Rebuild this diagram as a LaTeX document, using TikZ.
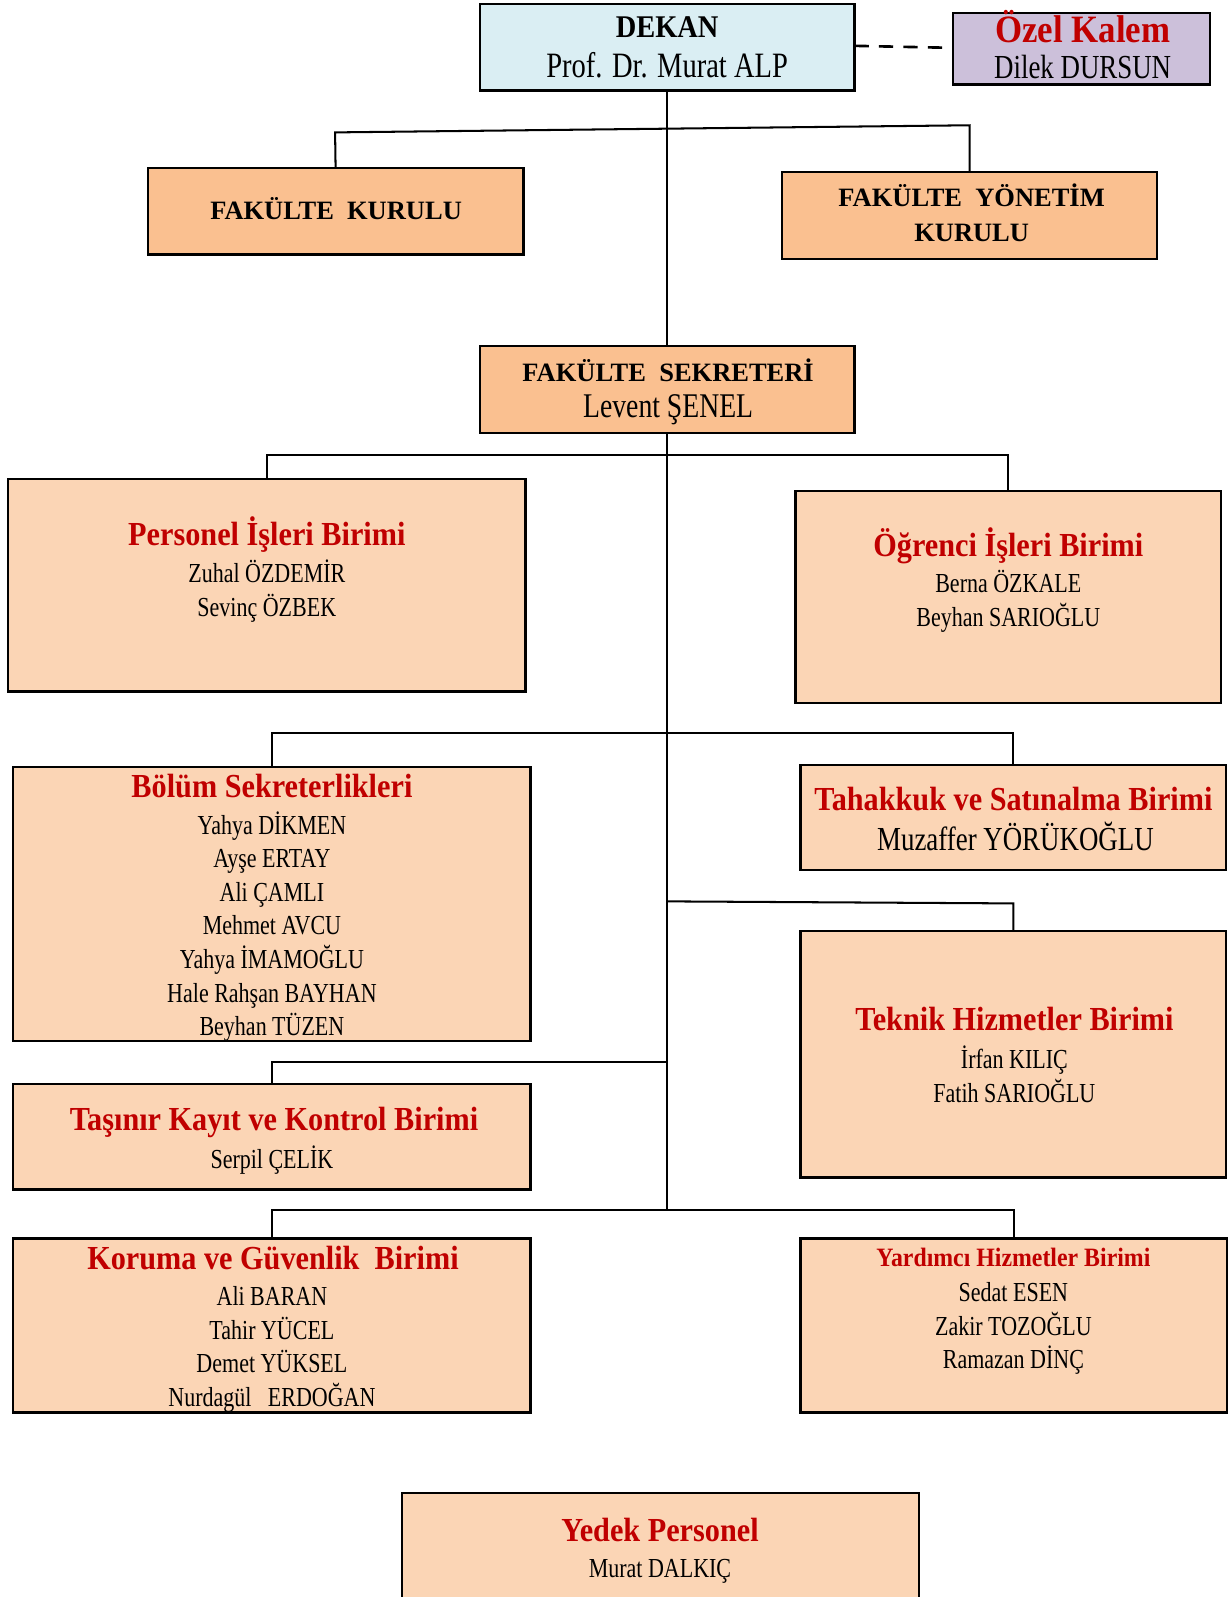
\documentclass[tikz,border=0pt]{standalone}
\usepackage{fontspec}
\setmainfont{Liberation Serif}
\newfontfamily\hfont{Liberation Serif}[FakeStretch=0.9]
\newfontfamily\nfont{Liberation Serif}[FakeStretch=0.8]
\definecolor{titlered}{HTML}{C00000}
\definecolor{dekanblue}{HTML}{DAEEF3}
\definecolor{ozellila}{HTML}{CCC0DA}
\definecolor{darkpeach}{HTML}{FAC090}
\definecolor{peach}{HTML}{FBD5B5}
\tikzset{
  ubox/.style={draw=black, line width=2.3pt, inner sep=0pt, outer sep=0pt},
  conn/.style={line width=2pt, draw=black},
  ttl/.style={anchor=base, inner sep=0pt, text=titlered, font=\hfont\bfseries\fontsize{33}{33}\selectfont},
  nm/.style={anchor=base, inner sep=0pt, font=\nfont\fontsize{27}{27}\selectfont},
  hd/.style={anchor=base, inner sep=0pt, font=\bfseries\fontsize{26}{26}\selectfont},
}
\newcommand\mkbox[6]{\node[ubox, fill=#6, minimum width={(#4-#2)*1pt}, minimum height={(#5-#3)*1pt}] (#1) at ({(#2+#4)/2},{(#3+#5)/2}) {};}
\begin{document}
\begin{tikzpicture}[x=1pt,y=-1pt]
\useasboundingbox[fill=white] (0,0) rectangle (1209,1568);
% connectors
\draw[line width=2.6pt, dash pattern=on 14pt off 10pt] (839,45) -- (936,47);
\coordinate (b1) at (329,130);
\coordinate (b2) at (952,123);
\coordinate (s5) at (655,1188);
\coordinate (s1) at (655,447);
\coordinate (s2) at (655,720);
\coordinate (s3) at (655,885);
\coordinate (s3b) at (995,887);
\coordinate (s4) at (655,1043);
% boxes
\mkbox{dekan}{471}{4}{839}{89}{dekanblue}
\mkbox{ozel}{936}{13}{1188}{83}{ozellila}
\mkbox{fk}{145}{165}{514}{250}{darkpeach}
\mkbox{fyk}{768}{169}{1136}{254}{darkpeach}
\mkbox{sek}{471}{340}{839}{425}{darkpeach}
\mkbox{pers}{8}{470}{516}{679}{peach}
\mkbox{ogr}{781}{482}{1199}{690}{peach}
\mkbox{bolum}{13}{753}{521}{1022}{peach}
\mkbox{tah}{786}{751}{1204}{854}{peach}
\mkbox{tek}{786}{914}{1204}{1156}{peach}
\mkbox{tas}{13}{1064}{521}{1168}{peach}
\mkbox{kor}{13}{1216}{521}{1387}{peach}
\mkbox{yar}{786}{1216}{1205}{1387}{peach}
\mkbox{yedek}{395}{1466}{902}{1590}{peach}
\draw[conn] (fk.north) -- (b1) -- (b2) -- (fyk.north);
\draw[conn] (dekan.south) -- (sek.north);
\draw[conn] (sek.south) -- (s5);
\draw[conn] (pers.north) |- (s1) -| (ogr.north);
\draw[conn] (bolum.north) |- (s2) -| (tah.north);
\draw[conn] (s3) -- (s3b) -- (tek.north);
\draw[conn] (s4) -| (tas.north);
\draw[conn] (kor.north) |- (s5) -| (yar.north);
% texts
\node[ttl, text=black, font=\hfont\bfseries\fontsize{31}{31}\selectfont] (tdekan) at (655,37) {DEKAN};
\node[nm, font=\nfont\fontsize{35}{35}\selectfont] (tdekan2) at (655,76) {Prof. Dr. Murat ALP};
\node[ttl, font=\hfont\bfseries\fontsize{38}{38}\selectfont] (tozel) at (1063,42) {Özel Kalem};
\node[nm, font=\nfont\fontsize{33}{33}\selectfont] (tozel2) at (1063,77) {Dilek DURSUN};
\node[hd] (tfk) at (330,216) {FAKÜLTE\ \ KURULU};
\node[hd] (tfyk1) at (954,203) {FAKÜLTE\ \ YÖNETİM};
\node[hd] (tfyk2) at (954,237) {KURULU};
\node[hd] (tsek) at (656,375) {FAKÜLTE\ \ SEKRETERİ};
\node[nm, font=\nfont\fontsize{34}{34}\selectfont] (tsek2) at (656,410) {Levent ŞENEL};
% Personel
\node[ttl] (tpers) at (262,536) {Personel İşleri Birimi};
\node[nm] (tpers1) at (262,572) {Zuhal ÖZDEMİR};
\node[nm] (tpers2) at (262,605) {Sevinç ÖZBEK};
% Ogrenci
\node[ttl] (togr) at (990,546) {Öğrenci İşleri Birimi};
\node[nm] (togr1) at (990,582) {Berna ÖZKALE};
\node[nm] (togr2) at (990,615) {Beyhan SARIOĞLU};
% Bolum
\node[ttl] (tbol) at (267,783) {Bölüm Sekreterlikleri};
\node[nm] (tbol1) at (267,819) {Yahya DİKMEN};
\node[nm] (tbol2) at (267,852) {Ayşe ERTAY};
\node[nm] (tbol3) at (267,885) {Ali ÇAMLI};
\node[nm] (tbol4) at (267,918) {Mehmet AVCU};
\node[nm] (tbol5) at (267,951) {Yahya İMAMOĞLU};
\node[nm] (tbol6) at (267,984) {Hale Rahşan BAYHAN};
\node[nm] (tbol7) at (267,1017) {Beyhan TÜZEN};
% Tahakkuk
\node[ttl] (ttah) at (995,796) {Tahakkuk ve Satınalma Birimi};
\node[nm, font=\nfont\fontsize{33}{33}\selectfont] (ttah1) at (997,835) {Muzaffer YÖRÜKOĞLU};
% Teknik
\node[ttl] (ttek) at (996,1012) {Teknik Hizmetler Birimi};
\node[nm] (ttek1) at (996,1049) {İrfan KILIÇ};
\node[nm] (ttek2) at (996,1082) {Fatih SARIOĞLU};
% Tasinir
\node[ttl] (ttas) at (269,1110) {Taşınır Kayıt ve Kontrol Birimi};
\node[nm] (ttas1) at (267,1147) {Serpil ÇELİK};
% Koruma
\node[ttl] (tkor) at (268,1246) {Koruma ve Güvenlik\ \ Birimi};
\node[nm] (tkor1) at (267,1282) {Ali BARAN};
\node[nm] (tkor2) at (267,1315) {Tahir YÜCEL};
\node[nm] (tkor3) at (267,1348) {Demet YÜKSEL};
\node[nm] (tkor4) at (267,1381) {Nurdagül\ \ \ ERDOĞAN};
% Yardimci
\node[ttl, font=\hfont\bfseries\fontsize{26}{26}\selectfont] (tyar) at (995,1243) {Yardımcı Hizmetler Birimi};
\node[nm] (tyar1) at (995,1278) {Sedat ESEN};
\node[nm] (tyar2) at (995,1311) {Zakir TOZOĞLU};
\node[nm] (tyar3) at (995,1344) {Ramazan DİNÇ};
% Yedek
\node[ttl] (tyed) at (648,1513) {Yedek Personel};
\node[nm] (tyed1) at (648,1549) {Murat DALKIÇ};
\end{tikzpicture}
\end{document}
